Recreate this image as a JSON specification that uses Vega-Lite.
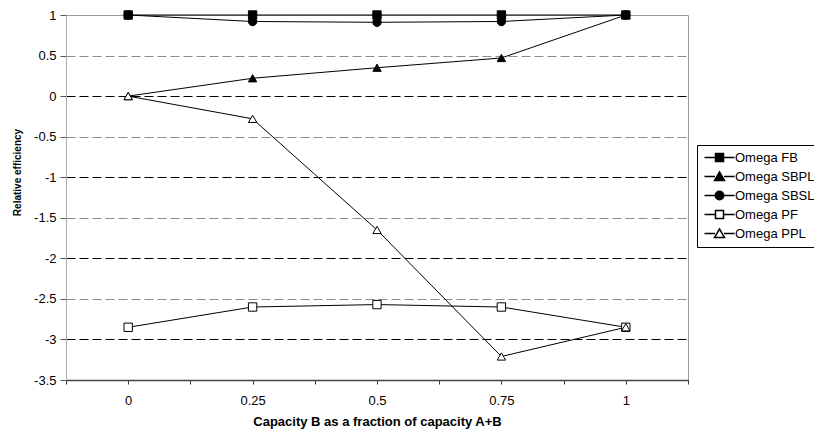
{
  "$schema": "https://vega.github.io/schema/vega-lite/v6.json",
  "width": 622,
  "height": 365,
  "autosize": {"type": "none"},
  "padding": {"left": 66, "top": 15, "right": 126, "bottom": 53},
  "background": "white",
  "config": {
    "font": "Liberation Sans",
    "view": {"stroke": "#9a9a9a", "strokeWidth": 1},
    "axis": {"labelFont": "Liberation Sans", "titleFont": "Liberation Sans", "labelColor": "#000", "titleColor": "#000"}
  },
  "data": {
    "values": [
      {"series": "Omega FB", "x": 0, "y": 1},
      {"series": "Omega FB", "x": 0.25, "y": 1},
      {"series": "Omega FB", "x": 0.5, "y": 1},
      {"series": "Omega FB", "x": 0.75, "y": 1},
      {"series": "Omega FB", "x": 1, "y": 1},
      {"series": "Omega SBPL", "x": 0, "y": 0},
      {"series": "Omega SBPL", "x": 0.25, "y": 0.22},
      {"series": "Omega SBPL", "x": 0.5, "y": 0.35},
      {"series": "Omega SBPL", "x": 0.75, "y": 0.47},
      {"series": "Omega SBPL", "x": 1, "y": 1},
      {"series": "Omega SBSL", "x": 0, "y": 1},
      {"series": "Omega SBSL", "x": 0.25, "y": 0.92},
      {"series": "Omega SBSL", "x": 0.5, "y": 0.91},
      {"series": "Omega SBSL", "x": 0.75, "y": 0.92},
      {"series": "Omega SBSL", "x": 1, "y": 1},
      {"series": "Omega PF", "x": 0, "y": -2.85},
      {"series": "Omega PF", "x": 0.25, "y": -2.6},
      {"series": "Omega PF", "x": 0.5, "y": -2.57},
      {"series": "Omega PF", "x": 0.75, "y": -2.6},
      {"series": "Omega PF", "x": 1, "y": -2.85},
      {"series": "Omega PPL", "x": 0, "y": 0},
      {"series": "Omega PPL", "x": 0.25, "y": -0.28},
      {"series": "Omega PPL", "x": 0.5, "y": -1.65},
      {"series": "Omega PPL", "x": 0.75, "y": -3.21},
      {"series": "Omega PPL", "x": 1, "y": -2.85}
    ]
  },
  "encoding": {
    "x": {
      "field": "x", "type": "quantitative",
      "scale": {"domain": [-0.125, 1.125], "nice": false, "zero": false},
      "axis": {
        "title": "Capacity B as a fraction of capacity A+B",
        "titleFontSize": 13, "titleFontWeight": "bold", "titlePadding": 8,
        "values": [-0.125, 0, 0.125, 0.25, 0.375, 0.5, 0.625, 0.75, 0.875, 1, 1.125],
        "labelExpr": "(datum.value * 8) % 2 === 0 ? format(datum.value, '~g') : ''",
        "labelFontSize": 13, "labelPadding": 10, "labelFlush": false,
        "grid": false, "tickSize": 4, "tickColor": "#333", "domainColor": "#444", "domainWidth": 1.5
      }
    },
    "y": {
      "field": "y", "type": "quantitative",
      "scale": {"domain": [-3.5, 1], "nice": false, "zero": false},
      "axis": {
        "title": "Relative efficiency",
        "titleFontSize": 10, "titleFontWeight": "bold", "titlePadding": 11, "titleY": 157,
        "values": [-3.5, -3, -2.5, -2, -1.5, -1, -0.5, 0, 0.5, 1],
        "labelExpr": "replace(format(datum.value, '~g'), '\u2212', '-')",
        "labelFontSize": 13, "labelPadding": 4,
        "tickSize": 6, "tickColor": "#555", "domainColor": "#aaa",
        "grid": true,
        "gridDash": [9, 4],
        "gridWidth": 1,
        "gridColor": {"condition": {"test": "datum.value === 1 || datum.value === -3.5", "value": "transparent"}, "value": "#000"},
        "gridOpacity": {"condition": {"test": "(datum.value * 2) % 2 !== 0", "value": 0.45}, "value": 1}
      }
    }
  },
  "layer": [
    {
      "mark": {"type": "line", "color": "#000", "strokeWidth": 1},
      "encoding": {"detail": {"field": "series"}}
    },
    {
      "mark": {"type": "point", "filled": true, "stroke": "#000", "strokeWidth": 1, "size": 70, "opacity": 1},
      "encoding": {
        "shape": {
          "field": "series", "type": "nominal",
          "scale": {"domain": ["Omega FB", "Omega SBPL", "Omega SBSL", "Omega PF", "Omega PPL"], "range": ["square", "triangle-up", "circle", "square", "triangle-up"]},
          "legend": null
        },
        "fill": {
          "field": "series", "type": "nominal",
          "scale": {"domain": ["Omega FB", "Omega SBPL", "Omega SBSL", "Omega PF", "Omega PPL"], "range": ["#000", "#000", "#000", "#fff", "#fff"]},
          "legend": null
        }
      }
    },
    {
      "transform": [{"filter": "datum.x > 10"}],
      "mark": {"type": "point", "filled": true, "stroke": "#000", "strokeWidth": 1, "opacity": 1},
      "encoding": {
        "shape": {
          "field": "series", "type": "nominal", "title": null,
          "scale": {"domain": ["Omega FB", "Omega SBPL", "Omega SBSL", "Omega PF", "Omega PPL"],
            "range": [
              "M-3,0H-0.8M0.8,0H3M-0.8,-0.8H0.8V0.8H-0.8Z",
              "M-3,0H-0.9M0.9,0H3M0,-0.9L1,0.8H-1Z",
              "M-3,0H-0.85M0.85,0H3M-0.85,0A0.85,0.85,0,1,1,0.85,0A0.85,0.85,0,1,1,-0.85,0Z",
              "M-3,0H-0.8M0.8,0H3M-0.8,-0.8H0.8V0.8H-0.8Z",
              "M-3,0H-0.9M0.9,0H3M0,-0.9L1,0.8H-1Z"
            ]},
          "legend": {
            "title": null,
            "orient": "none", "legendX": 631, "legendY": 130,
            "strokeColor": "#000", "fillColor": "white", "padding": 6, "cornerRadius": 0,
            "labelFont": "Liberation Sans", "labelFontSize": 13, "labelColor": "#000",
            "rowPadding": 4, "labelOffset": 9, "symbolOffset": 10,
            "symbolSize": 100
          }
        },
        "fill": {
          "field": "series", "type": "nominal",
          "scale": {"domain": ["Omega FB", "Omega SBPL", "Omega SBSL", "Omega PF", "Omega PPL"], "range": ["#000", "#000", "#000", "#fff", "#fff"]},
          "legend": null
        }
      }
    }
  ],
  "resolve": {"scale": {"shape": "independent", "fill": "independent"}}
}
